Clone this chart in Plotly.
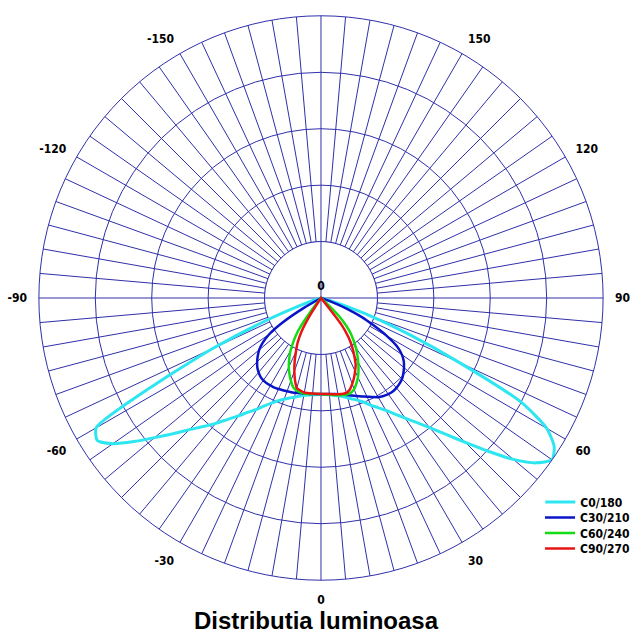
import plotly.graph_objects as go

# Gamma angles (degrees from nadir)
gamma = [0, 5, 10, 15, 17.5, 20, 22.5, 25, 27.5, 30, 32.5, 35, 37.5, 40, 42.5, 45,
         47.5, 50, 52.5, 55, 57.5, 60, 62.5, 65, 67.5, 70, 72.5, 75, 80, 90]

# Luminous intensity (cd/klm); "right" = C0/30/60/90, "left" = C180/210/240/270
c0_right = [171, 172, 176, 183, 188, 193, 200, 210, 219, 230, 244, 260, 278, 300, 328, 362,
            402, 445, 480, 500, 490, 462, 400, 270, 170, 95, 35, 10, 3, 0]
c180_left = [171, 172, 175, 182, 186, 191, 197, 205, 215, 228, 240, 255, 271, 290, 309, 330,
             356, 385, 418, 450, 470, 460, 330, 210, 110, 40, 12, 4, 1, 0]
c30_right = [170, 171, 173, 178, 181, 185, 189, 193, 198, 203, 206, 208, 209, 208, 206, 203,
             198, 192, 185, 175, 160, 135, 105, 80, 50, 20, 5, 0, 0, 0]
c210_left = [170, 171, 172, 174, 175, 176, 177, 178, 179, 179, 179, 178, 176, 172, 167, 160,
             152, 143, 130, 112, 80, 35, 0, 0, 0, 0, 0, 0, 0, 0]
c60_right = [170, 172, 175, 177, 176, 172, 164, 155, 144, 132, 120, 108, 95, 82, 65, 45,
             10, 0, 0, 0, 0, 0, 0, 0, 0, 0, 0, 0, 0, 0]
c240_left = [170, 171, 172, 169, 165, 156, 146, 135, 122, 108, 90, 70, 30, 0, 0, 0,
             0, 0, 0, 0, 0, 0, 0, 0, 0, 0, 0, 0, 0, 0]
c90_right = [170, 171, 173, 174, 170, 162, 153, 143, 133, 118, 103, 85, 60, 0, 0, 0,
             0, 0, 0, 0, 0, 0, 0, 0, 0, 0, 0, 0, 0, 0]
c270_left = [170, 170, 170, 165, 153, 138, 122, 105, 90, 70, 35, 0, 0, 0, 0, 0,
             0, 0, 0, 0, 0, 0, 0, 0, 0, 0, 0, 0, 0, 0]

series_names = ["C0/180", "C30/210", "C60/240", "C90/270"]
series_colors = ["#2ee6f0", "#0a14c8", "#12dc12", "#e81414"]
series_widths = [3, 2.5, 2.5, 2.5]

# Polar grid
r_max = 500
ring_values = [100, 200, 300, 400]
tick_angles = list(range(0, 360, 5))
label_map = {0: "0", 30: "30", 60: "60", 90: "90", 120: "120", 150: "150",
             210: "-150", 240: "-120", 270: "-90", 300: "-60", 330: "-30"}
tick_text = [label_map.get(a, "") for a in tick_angles]

title_text = "Distributia luminoasa"

GRID = "#3030aa"
FONT = "Liberation Sans Narrow, Arial Narrow, DejaVu Sans Condensed, Roboto Condensed, Liberation Sans, sans-serif"

fig = go.Figure()

# White inner disc hiding the radial grid lines
disc_theta = list(range(0, 361, 2))
fig.add_trace(go.Scatterpolar(
    r=[ring_values[0]] * len(disc_theta), theta=disc_theta, mode="lines",
    fill="toself", fillcolor="white", line=dict(color=GRID, width=1),
    hoverinfo="skip", showlegend=False))
# Cross lines through the centre
fig.add_trace(go.Scatterpolar(
    r=[ring_values[0], 0, ring_values[0]], theta=[180, 180, 0], mode="lines",
    line=dict(color=GRID, width=1), hoverinfo="skip", showlegend=False))
fig.add_trace(go.Scatterpolar(
    r=[ring_values[0], 0, ring_values[0]], theta=[90, 90, -90], mode="lines",
    line=dict(color=GRID, width=1), hoverinfo="skip", showlegend=False))

pairs = [(c0_right, c180_left), (c30_right, c210_left), (c60_right, c240_left), (c90_right, c270_left)]
legend_ids = ["legend", "legend2", "legend3", "legend4"]
for (right, left), name, color, w, lg in zip(pairs, series_names, series_colors, series_widths, legend_ids):
    theta = [-g for g in reversed(gamma)] + gamma[1:]
    r = list(reversed(left)) + right[1:]
    fig.add_trace(go.Scatterpolar(
        r=r, theta=theta, mode="lines", name=name, legend=lg,
        line=dict(color=color, width=w, shape="spline", smoothing=0.6)))

# centre label "0"
fig.add_trace(go.Scatterpolar(
    r=[0], theta=[180], mode="markers+text", text=["0"], textposition="top center",
    marker=dict(size=6, opacity=0),
    textfont=dict(family=FONT, size=12, color="black", weight="bold"),
    hoverinfo="skip", showlegend=False))

legend_font = dict(family=FONT, size=12, color="black", weight="bold")
row_y = [502, 517.5, 533, 548.5]
legends = {}
for lg, yy in zip(legend_ids, row_y):
    legends[lg] = dict(x=542 / 635, y=1 - yy / 644, xanchor="left", yanchor="middle",
                       font=legend_font, itemwidth=30, bgcolor="rgba(0,0,0,0)",
                       borderwidth=0)

fig.update_layout(
    width=635, height=644,
    margin=dict(l=0, r=0, t=0, b=0),
    paper_bgcolor="white",
    showlegend=True,
    polar=dict(
        domain=dict(x=[39 / 635, 605 / 635], y=[1 - 581 / 644, 1 - 15 / 644]),
        bgcolor="white",
        radialaxis=dict(range=[0, r_max], tickvals=ring_values, showticklabels=False,
                        ticks="", showline=False, gridcolor=GRID, gridwidth=1),
        angularaxis=dict(rotation=-90, direction="counterclockwise",
                         tickvals=tick_angles, ticktext=tick_text,
                         ticks="outside", ticklen=9, tickcolor="rgba(0,0,0,0)",
                         showline=True, linecolor=GRID, linewidth=1,
                         gridcolor=GRID, gridwidth=1,
                         tickfont=dict(family=FONT, size=12, color="black", weight="bold")),
    ),
    annotations=[dict(text=title_text, x=0.5, y=1 - 620 / 644, xref="paper",
                      yref="paper", yanchor="middle", showarrow=False,
                      font=dict(family="Liberation Sans, Arial, sans-serif", size=24,
                                color="black", weight="bold"))],
    **legends,
)

fig.write_html("out.html", config={"displayModeBar": False},
               post_script="document.body.style.margin='0px';")
